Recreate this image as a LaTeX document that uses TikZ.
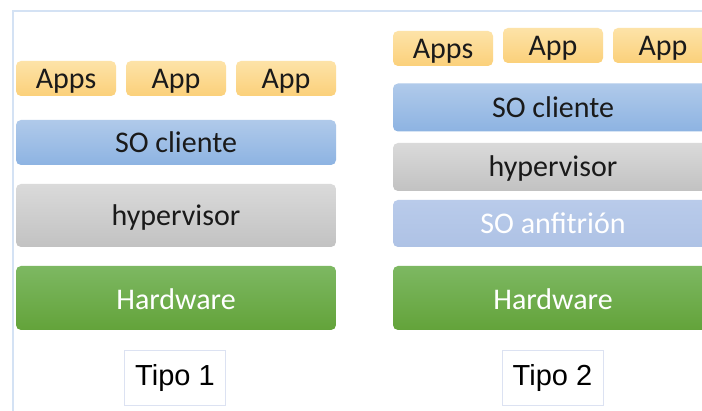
\documentclass[tikz,border=0pt]{standalone}
\usepackage{fontspec}
\setmainfont{Carlito}
\newfontfamily\tipofont{Liberation Sans}
\definecolor{frameblue}{HTML}{D4E2F4}
\definecolor{apptop}{HTML}{FDE3A8}
\definecolor{appbot}{HTML}{FBD07A}
\definecolor{clitop}{HTML}{B0CAEA}
\definecolor{clibot}{HTML}{8DB3E2}
\definecolor{hyptop}{HTML}{DADADA}
\definecolor{hypbot}{HTML}{C2C2C2}
\definecolor{hosttop}{HTML}{B9CBEA}
\definecolor{hostbot}{HTML}{AEC2E5}
\definecolor{hwtop}{HTML}{7DB862}
\definecolor{hwbot}{HTML}{63A33A}
\definecolor{tipoborder}{HTML}{DCE2F2}
\definecolor{labeltext}{HTML}{1A1A1A}
\begin{document}
\begin{tikzpicture}[x=1pt,y=-1pt,
  layer/.style={rounded corners=5pt, inner sep=0pt, minimum width=320pt,
    font=\fontsize{30}{30}\selectfont, text=labeltext,
    text height=20pt, text depth=0pt},
  app/.style={layer, minimum width=100pt, minimum height=35pt,
    top color=apptop, bottom color=appbot},
  client/.style={layer, top color=clitop, bottom color=clibot},
  hyper/.style={layer, top color=hyptop, bottom color=hypbot},
  host/.style={layer, top color=hosttop, bottom color=hostbot, text=white},
  hw/.style={layer, minimum height=64pt, top color=hwtop, bottom color=hwbot,
    text=white, text height=24pt},
  tipo/.style={draw=tipoborder, line width=1pt, fill=white, inner sep=0pt,
    minimum width=101pt, minimum height=55pt,
    font=\tipofont\fontsize{29}{29}\selectfont, text=black,
    text height=16pt, text depth=0pt},
  frame/.style={draw=frameblue, line width=2pt}]
\useasboundingbox (0,0) rectangle (702,411);
\clip (0,0) rectangle (702,411);
\fill[white] (0,0) rectangle (702,411);

% outer frame
\coordinate (fbl) at (13,412);
\coordinate (ftl) at (13,11);
\coordinate (ftr) at (703,11);
\draw[frame] (fbl) -- (ftl) -- (ftr);

% type 1: bare-metal hypervisor
\node[app] (a11) at (66,78.5) {Apps};
\node[app] (a12) at (176,78.5) {App};
\node[app] (a13) at (286,78.5) {App};
\node[client, minimum height=45pt] (cl1) at (176,142.5) {SO cliente};
\node[hyper, minimum height=63pt] (hy1) at (176,215.5) {hypervisor};
\node[hw] (hw1) at (176,298) {Hardware};
\node[tipo] (t1) at (175,378) {Tipo 1};

% type 2: hosted hypervisor
\node[app] (a21) at (443,48.5) {Apps};
\node[app] (a22) at (553,45.5) {App};
\node[app] (a23) at (663,45.5) {App};
\node[client, minimum height=48pt] (cl2) at (553,107.5) {SO cliente};
\node[hyper, minimum height=48pt] (hy2) at (553,167) {hypervisor};
\node[host, minimum height=47pt] (an2) at (553,223.5) {SO anfitrión};
\node[hw] (hw2) at (553,298) {Hardware};
\node[tipo] (t2) at (552.5,378) {Tipo 2};
\end{tikzpicture}
\end{document}
